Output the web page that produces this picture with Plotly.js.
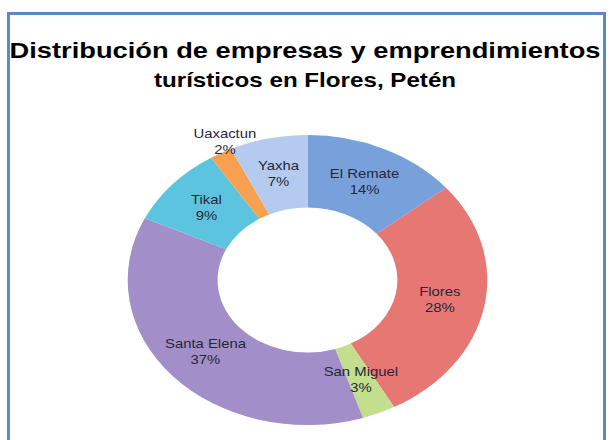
<!DOCTYPE html>
<html>
<head>
<meta charset="utf-8">
<script src="https://cdn.plot.ly/plotly-3.0.1.min.js"></script>
<style>
  html, body { margin: 0; padding: 0; background: #ffffff; }
  #wrap { position: relative; width: 610px; height: 440px; overflow: hidden; }
  #frame { position: absolute; left: 7px; top: 12px; width: 599px; height: 440px;
           border-left: 3px solid #5a88c8; border-top: 3px solid #5a88c8; border-right: 3px solid #5a88c8;
           box-sizing: border-box; z-index: 2; pointer-events: none; }
  #chart { position: absolute; left: 0; top: 0; width: 492px; height: 440px;
           transform: scaleX(1.24); transform-origin: 0 0; }
</style>
</head>
<body>
<div id="wrap">
  <div id="chart"></div>
  <div id="frame"></div>
</div>
<script>
const categories = ["El Remate", "Flores", "San Miguel", "Santa Elena", "Tikal", "Uaxactun", "Yaxha"];
const values = [14, 28, 3, 37, 9, 2, 7];
const colors = ["#78a1dc", "#e67773", "#c3de8c", "#a28ec8", "#5dc4e0", "#f7a04f", "#b4caee"];
const outsideLabel = [false, false, false, false, false, true, false];
const titleLine1 = "Distribución de empresas y emprendimientos";
const titleLine2 = "turísticos en Flores, Petén";

const W = 492, H = 440;
const domX = [0.209, 0.799], domY = [0.034, 0.693];
const hole = 0.5;

const trace = {
  type: "pie",
  labels: categories,
  values: values,
  sort: false,
  direction: "clockwise",
  rotation: 0,
  hole: hole,
  marker: { colors: colors, line: { color: "#ffffff", width: 0 } },
  textinfo: "none",
  showlegend: false,
  automargin: false,
  domain: { x: domX, y: domY }
};

// labels placed at each slice's mid-angle, derived from the values
const total = values.reduce((a, b) => a + b, 0);
const Rpx = Math.min((domX[1] - domX[0]) * W, (domY[1] - domY[0]) * H) / 2;
const cx = (domX[0] + domX[1]) / 2, cy = (domY[0] + domY[1]) / 2;
const annotations = [];
let cum = 0;
values.forEach((v, i) => {
  const ang = (cum + v / 2) / total * 2 * Math.PI;
  cum += v;
  const r = outsideLabel[i] ? 0.95 : (1 + hole) / 2;
  annotations.push({
    xref: "paper", yref: "paper",
    x: cx + r * Rpx * Math.sin(ang) / W,
    y: cy + r * Rpx * Math.cos(ang) / H,
    xanchor: "center",
    yanchor: outsideLabel[i] ? "bottom" : "middle",
    showarrow: false,
    align: "center",
    text: categories[i] + "<br>" + Math.round(v / total * 100) + "%",
    font: { family: "Liberation Sans, Arial, sans-serif", size: 12, color: "#262837" }
  });
});

const layout = {
  width: W,
  height: H,
  margin: { l: 0, r: 0, t: 0, b: 0 },
  paper_bgcolor: "#ffffff",
  plot_bgcolor: "#ffffff",
  showlegend: false,
  annotations: annotations,
  title: {
    text: "<b>" + titleLine1 + "<br><span style='font-size:19.5px'>" + titleLine2 + "</span></b>",
    font: { family: "Liberation Sans, Arial, sans-serif", size: 22, color: "#000000" },
    x: 0.5, xanchor: "center",
    y: 1 - 58 / 440, yanchor: "top", yref: "container"
  }
};

Plotly.newPlot("chart", [trace], layout, { staticPlot: true, displayModeBar: false });
</script>
</body>
</html>
